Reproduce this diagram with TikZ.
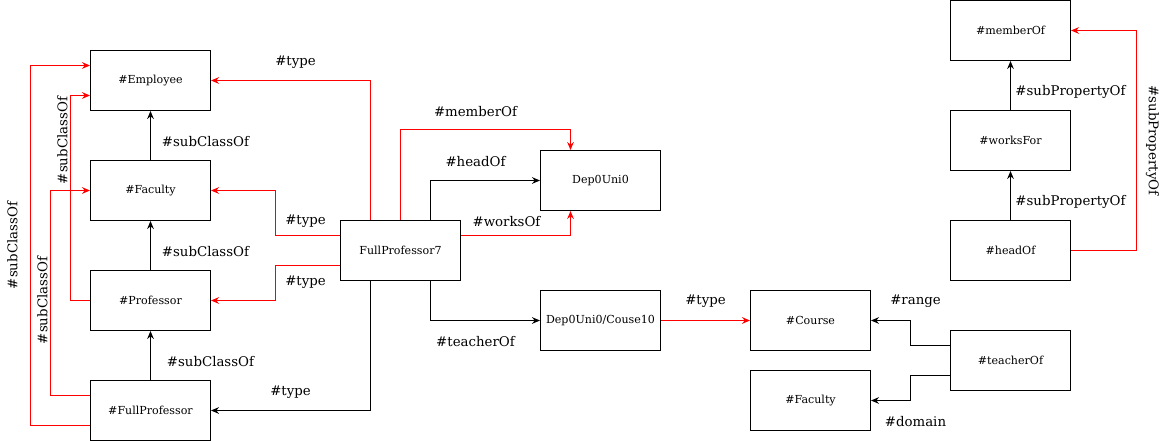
\documentclass[tikz,border=0pt]{standalone}
\usepackage{fontspec}
\setmainfont{DejaVu Serif}
\usetikzlibrary{calc,arrows.meta}
\begin{document}
\begin{tikzpicture}[x=0.75pt,y=-0.75pt,
  box/.style={draw,line width=0.75pt,inner sep=0pt,minimum width=90pt,minimum height=45pt,font=\fontsize{8.3}{10}\selectfont},
  lbl/.style={inner sep=0pt,font=\fontsize{10}{12}\selectfont},
  blk/.style={draw=black,line width=0.75pt,-{Stealth[length=6pt,width=5pt,inset=2pt]}},
  redl/.style={draw=red,color=red,line width=0.75pt,-{Stealth[length=6pt,width=5pt,inset=2pt]}}]
\useasboundingbox (0,0) rectangle (1166,441);
\begin{scope}[shift={(0.5,0.5)}]
% nodes
\node[box] (emp)   at (150,80)  {\#Employee};
\node[box] (fac)   at (150,190) {\#Faculty};
\node[box] (prof)  at (150,300) {\#Professor};
\node[box] (fprof) at (150,410) {\#FullProfessor};
\node[box] (fp7)   at (400,250) {FullProfessor7};
\node[box] (dep)   at (600,180) {Dep0Uni0};
\node[box] (c10)   at (600,320) {Dep0Uni0/Couse10};
\node[box] (course) at (810,320) {\#Course};
\node[box] (fac2)  at (810,400) {\#Faculty};
\node[box] (tch)   at (1010,360) {\#teacherOf};
\node[box] (mem)   at (1010,30) {\#memberOf};
\node[box] (wf)    at (1010,140) {\#worksFor};
\node[box] (head)  at (1010,250) {\#headOf};
% edges
\draw[blk] (fac.north) -- (emp.south);
\draw[blk] (prof.north) -- (fac.south);
\draw[blk] (fprof.north) -- (prof.south);
\draw[redl] ($(fp7.north)+(-30,0)$) |- (emp.east);
\draw[redl] ($(fp7.west)+(0,-15)$) -- ++(-65,0) |- (fac.east);
\draw[redl] ($(fp7.west)+(0,15)$) -- ++(-65,0) |- (prof.east);
\draw[blk] ($(fp7.south)+(-30,0)$) |- (fprof.east);
\draw[redl] (fp7.north) -- ++(0,-90) -| ($(dep.north)+(-30,0)$);
\draw[blk] ($(fp7.north)+(30,0)$) |- (dep.west);
\draw[redl] ($(fp7.east)+(0,-15)$) -| ($(dep.south)+(-30,0)$);
\draw[blk] ($(fp7.south)+(30,0)$) |- (c10.west);
\draw[redl] (c10.east) -- (course.west);
\draw[blk] ($(tch.west)+(0,-15)$) -- ++(-40,0) |- (course.east);
\draw[blk] ($(tch.west)+(0,15)$) -- ++(-40,0) |- (fac2.east);
\draw[blk] (wf.north) -- (mem.south);
\draw[blk] (head.north) -- (wf.south);
\draw[redl] (head.east) -- ++(65,0) |- (mem.east);
\draw[redl] (prof.west) -- ++(-20,0) |- ($(emp.west)+(0,15)$);
\draw[redl] ($(fprof.west)+(0,-15)$) -- ++(-40,0) |- (fac.west);
\draw[redl] ($(fprof.west)+(0,15)$) -- ++(-60,0) |- ($(emp.west)+(0,-15)$);
% labels
\node[lbl] (l1) at (295,62) {\#type};
\node[lbl] (l2) at (205,141) {\#subClassOf};
\node[lbl] (l3) at (205,251) {\#subClassOf};
\node[lbl] (l4) at (210,361) {\#subClassOf};
\node[lbl] (l5) at (305,221) {\#type};
\node[lbl] (l6) at (305,282) {\#type};
\node[lbl] (l7) at (290,392) {\#type};
\node[lbl] (l8) at (475,111) {\#memberOf};
\node[lbl] (l9) at (475,161) {\#headOf};
\node[lbl] (l10) at (506,221) {\#worksOf};
\node[lbl] (l11) at (475,341) {\#teacherOf};
\node[lbl] (l12) at (705,301) {\#type};
\node[lbl] (l13) at (915,301) {\#range};
\node[lbl] (l14) at (915,421) {\#domain};
\node[lbl] (l15) at (1070,91) {\#subPropertyOf};
\node[lbl] (l16) at (1070,201) {\#subPropertyOf};
\node[lbl,rotate=-90] (l17) at (1152,140) {\#subPropertyOf};
\node[lbl,rotate=90] (l18) at (62,140) {\#subClassOf};
\node[lbl,rotate=90] (l19) at (42,300) {\#subClassOf};
\node[lbl,rotate=90] (l20) at (12,245) {\#subClassOf};
\end{scope}
\end{tikzpicture}
\end{document}
